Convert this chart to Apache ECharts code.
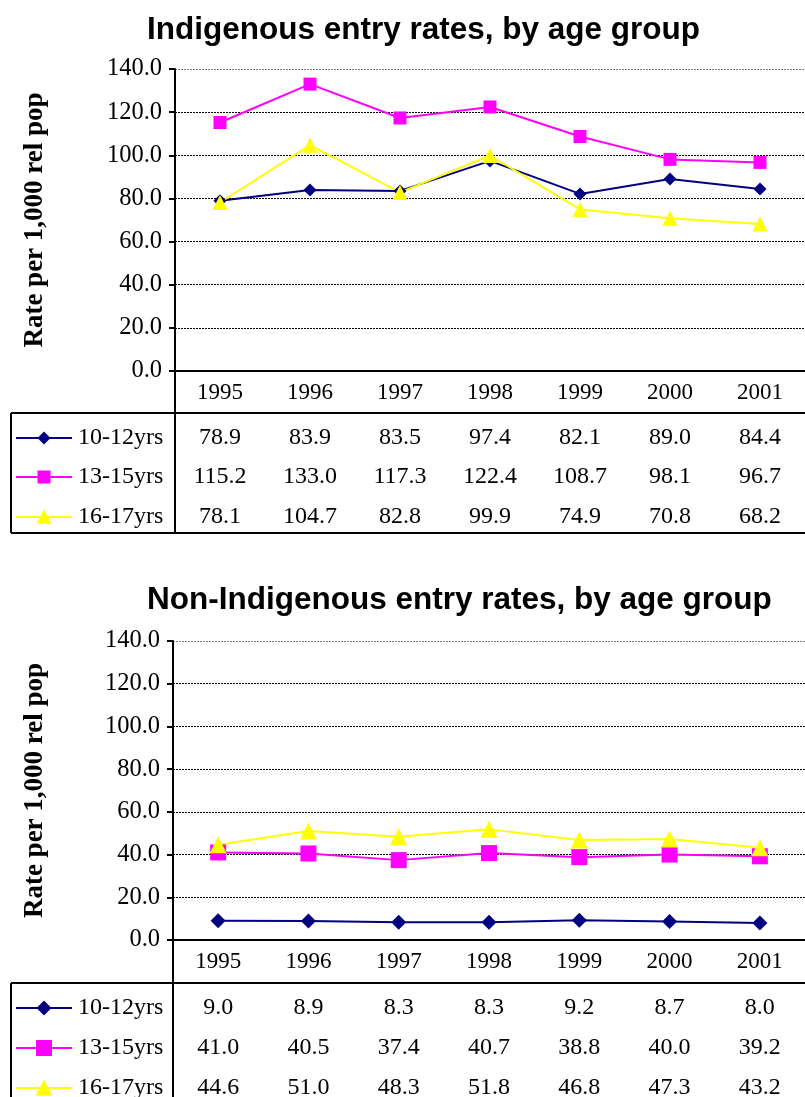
<!DOCTYPE html>
<html>
<head>
<meta charset="utf-8">
<script src="https://cdn.jsdelivr.net/npm/echarts@6/dist/echarts.min.js"></script>
<style>
  html, body { margin: 0; padding: 0; background: #ffffff; }
  #chart { width: 805px; height: 1097px; }
</style>
</head>
<body>
<div id="chart"></div>
<script>
// Years on the category axis
const years = ['1995', '1996', '1997', '1998', '1999', '2000', '2001'];
// Age groups (series names)
const groups = ['10-12yrs', '13-15yrs', '16-17yrs'];

// Indigenous entry rates per 1,000 relevant population
const indig1012 = [78.9, 83.9, 83.5, 97.4, 82.1, 89.0, 84.4];
const indig1315 = [115.2, 133.0, 117.3, 122.4, 108.7, 98.1, 96.7];
const indig1617 = [78.1, 104.7, 82.8, 99.9, 74.9, 70.8, 68.2];

// Non-Indigenous entry rates per 1,000 relevant population
const nonIndig1012 = [9.0, 8.9, 8.3, 8.3, 9.2, 8.7, 8.0];
const nonIndig1315 = [41.0, 40.5, 37.4, 40.7, 38.8, 40.0, 39.2];
const nonIndig1617 = [44.6, 51.0, 48.3, 51.8, 46.8, 47.3, 43.2];

// Value axis range
const yMin = 0, yMax = 140, yStep = 20;

const titles = ['Indigenous entry rates, by age group', 'Non-Indigenous entry rates, by age group'];
const yTitle = 'Rate per 1,000 rel pop';

const colors = ['#000080', '#FF00FF', '#FFFF00'];
const SERIF = '"Liberation Serif", "Times New Roman", serif';
const SANS = '"Liberation Sans", Arial, sans-serif';

// Panel geometry
const panels = [
  { left: 175, top: 69, height: 302, width: 647, titleY: 30, tableTop: 413, rows: [438, 477, 517], bottom: 533,
    sizes: { diamond: 13, rect: 13, triangle: 15 }, keySizes: { diamond: 13, rect: 13, triangle: 15 },
    data: [indig1012, indig1315, indig1617] },
  { left: 173, top: 641, height: 299, width: 647, titleY: 600, tableTop: 983, rows: [1008, 1048, 1088], bottom: null,
    sizes: { diamond: 15, rect: 16, triangle: 17 }, keySizes: { diamond: 15, rect: 16, triangle: 17 },
    data: [nonIndig1012, nonIndig1315, nonIndig1617] }
];
const symbols = ['diamond', 'rect', 'triangle'];

const chart = echarts.init(document.getElementById('chart'), null, { renderer: 'canvas' });

const grids = [], xAxes = [], yAxes = [], series = [];
const gridColors = [];
for (let i = 0; i < (yMax - yMin) / yStep; i++) gridColors.push('#000000');
gridColors.push('#808080');

panels.forEach((p, pi) => {
  grids.push({ left: p.left, top: p.top, width: p.width, height: p.height, containLabel: false });
  xAxes.push({
    type: 'category', gridIndex: pi, data: years, boundaryGap: true,
    axisLine: { show: true, lineStyle: { color: '#000', width: 2 } },
    axisTick: { show: false },
    axisLabel: { color: '#000', fontFamily: SERIF, fontSize: 23, margin: 10 },
    splitLine: { show: false }
  });
  yAxes.push({
    type: 'value', gridIndex: pi, min: yMin, max: yMax, interval: yStep,
    axisLine: { show: true, lineStyle: { color: '#000', width: 2 } },
    axisTick: { show: true, length: 6, lineStyle: { color: '#000', width: 2 } },
    axisLabel: { color: '#000', fontFamily: SERIF, fontSize: 24.5, margin: 13,
      formatter: v => v.toFixed(1) },
    splitLine: { show: true, lineStyle: { color: gridColors, width: 1, type: [2, 1] } }
  });
  p.data.forEach((vals, si) => {
    series.push({
      type: 'line', name: groups[si], xAxisIndex: pi, yAxisIndex: pi, data: vals,
      symbol: symbols[si], symbolSize: p.sizes[symbols[si]],
      showAllSymbol: true,
      lineStyle: { color: colors[si], width: 2 },
      itemStyle: { color: colors[si] },
      emphasis: { disabled: true },
      animation: false
    });
  });
});

chart.setOption({
  animation: false,
  backgroundColor: '#ffffff',
  grid: grids,
  xAxis: xAxes,
  yAxis: yAxes,
  series: series
});

// Titles, axis titles and the data tables beneath each plot
const graphics = [];
const LINE = { stroke: '#000', lineWidth: 2 };
const RIGHT = 805;

function keyShape(kind, cx, cy, s, color) {
  const h = s / 2;
  if (kind === 'diamond') {
    return { type: 'polygon', shape: { points: [[cx, cy - h], [cx + h, cy], [cx, cy + h], [cx - h, cy]] }, style: { fill: color } };
  }
  if (kind === 'rect') {
    return { type: 'rect', shape: { x: cx - h, y: cy - h, width: s, height: s }, style: { fill: color } };
  }
  return { type: 'polygon', shape: { points: [[cx, cy - h], [cx + h, cy + h * 0.9], [cx - h, cy + h * 0.9]] }, style: { fill: color } };
}

panels.forEach((p, pi) => {
  graphics.push({
    type: 'text', x: 147, y: p.titleY,
    style: { text: titles[pi], font: 'bold 31.5px ' + SANS, fill: '#000', align: 'left', verticalAlign: 'middle' }
  });
  graphics.push({
    type: 'text', x: 35, y: p.top + p.height / 2, rotation: Math.PI / 2,
    style: { text: yTitle, font: 'bold 27px ' + SERIF, fill: '#000', align: 'center', verticalAlign: 'middle' }
  });

  const axisY = chart.convertToPixel({ yAxisIndex: pi }, yMin);
  const bottom = p.bottom === null ? 1110 : p.bottom;
  // table frame
  graphics.push({ type: 'line', shape: { x1: p.left, y1: axisY, x2: p.left, y2: bottom }, style: LINE });
  graphics.push({ type: 'line', shape: { x1: 11, y1: p.tableTop, x2: RIGHT, y2: p.tableTop }, style: LINE });
  graphics.push({ type: 'line', shape: { x1: 11, y1: p.tableTop, x2: 11, y2: bottom }, style: LINE });
  if (p.bottom !== null) {
    graphics.push({ type: 'line', shape: { x1: 11, y1: bottom, x2: RIGHT, y2: bottom }, style: LINE });
  }

  p.data.forEach((vals, si) => {
    const ry = p.rows[si];
    // legend key
    graphics.push({ type: 'line', shape: { x1: 16, y1: ry, x2: 72, y2: ry }, style: { stroke: colors[si], lineWidth: 2 } });
    graphics.push(keyShape(symbols[si], 44, ry, p.keySizes[symbols[si]], colors[si]));
    graphics.push({
      type: 'text', x: 78, y: ry,
      style: { text: groups[si], font: '24px ' + SERIF, fill: '#000', align: 'left', verticalAlign: 'middle' }
    });
    // values
    vals.forEach((v, j) => {
      const x = chart.convertToPixel({ xAxisIndex: pi }, years[j]);
      graphics.push({
        type: 'text', x: x, y: ry,
        style: { text: v.toFixed(1), font: '24px ' + SERIF, fill: '#000', align: 'center', verticalAlign: 'middle' }
      });
    });
  });
});

chart.setOption({ graphic: { elements: graphics } });
</script>
</body>
</html>
